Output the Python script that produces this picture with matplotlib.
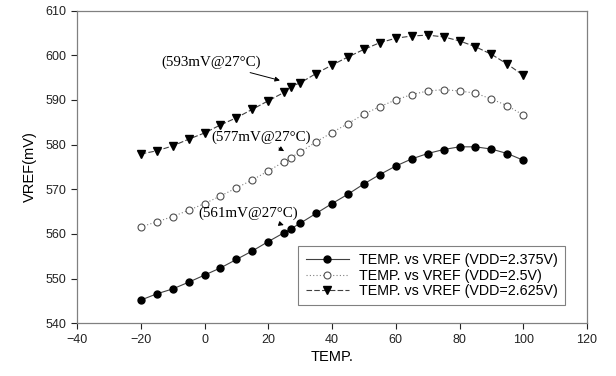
import matplotlib
matplotlib.use("Agg")
import matplotlib.pyplot as plt

# temperatures (deg C); 27 is the marked room-temperature point
temp = [-20, -15, -10, -5, 0, 5, 10, 15, 20, 25, 27, 30, 35, 40, 45,
        50, 55, 60, 65, 70, 75, 80, 85, 90, 95, 100]

# VREF (mV) for each supply voltage
vref_2375 = [545.2, 546.6, 547.7, 549.2, 550.8, 552.4, 554.3, 556.2, 558.3, 560.3,
             561.1, 562.4, 564.6, 566.8, 568.9, 571.2, 573.3, 575.2, 576.8, 578.0,
             578.9, 579.5, 579.5, 579.0, 578.0, 576.5]
vref_25 = [561.6, 562.7, 563.9, 565.3, 566.8, 568.5, 570.3, 572.1, 574.1, 576.2,
           577.1, 578.3, 580.6, 582.7, 584.7, 586.8, 588.5, 590.0, 591.2, 592.0,
           592.3, 592.0, 591.5, 590.2, 588.7, 586.6]
vref_2625 = [577.9, 578.6, 579.7, 581.2, 582.6, 584.4, 586.0, 587.9, 589.8, 591.7,
             593.0, 593.8, 595.9, 597.8, 599.6, 601.3, 602.8, 603.8, 604.3, 604.5,
             604.1, 603.2, 601.9, 600.2, 598.0, 595.5]

labels = ["TEMP. vs VREF (VDD=2.375V)",
          "TEMP. vs VREF (VDD=2.5V)",
          "TEMP. vs VREF (VDD=2.625V)"]
notes = ["(561mV@27\u00b0C)", "(577mV@27\u00b0C)", "(593mV@27\u00b0C)"]

plt.rcParams["font.family"] = ["Liberation Sans", "DejaVu Sans"]

fig = plt.figure(figsize=(6.16, 3.76), dpi=100)
ax = fig.add_axes([0.125, 0.140, 0.828, 0.832])

ax.plot(temp, vref_2375, color="#404040", lw=0.8, ls="-",
        marker="o", ms=5, mfc="black", mec="black", label=labels[0])
ax.plot(temp, vref_25, color="#808080", lw=0.8, ls=(0, (1, 2)),
        marker="o", ms=5, mfc="white", mec="#505050", mew=0.8, label=labels[1])
ax.plot(temp, vref_2625, color="#404040", lw=0.8, ls=(0, (5, 2)),
        marker="v", ms=5.5, mfc="black", mec="black", label=labels[2])

ax.set_xlim(-40, 120)
ax.set_ylim(540, 610)
ax.set_xticks(range(-40, 121, 20))
ax.set_yticks(range(540, 611, 10))
ax.tick_params(direction="out", length=4, width=0.8, labelsize=9,
               colors="#222222", top=False, right=False)
for s in ax.spines.values():
    s.set_color("#808080")
    s.set_linewidth(0.9)

ax.set_xlabel("TEMP.", fontsize=10.5, labelpad=3)
ax.set_ylabel("VREF(mV)", fontsize=10.5, labelpad=6)

serif = ["Liberation Serif", "DejaVu Serif"]
arrow = dict(arrowstyle="-|>", color="black", lw=0.7, mutation_scale=7)
ax.annotate(notes[2], xy=(24.5, 594.2), xytext=(-13.5, 598.4),
            fontsize=10.8, family=serif, va="center", ha="left",
            arrowprops=arrow)
ax.annotate(notes[1], xy=(25.7, 578.2), xytext=(2.2, 581.7),
            fontsize=10.8, family=serif, va="center", ha="left",
            arrowprops=arrow)
ax.annotate(notes[0], xy=(25.7, 561.8), xytext=(-2.0, 564.6),
            fontsize=10.8, family=serif, va="center", ha="left",
            arrowprops=arrow)

leg = ax.legend(loc="lower right", bbox_to_anchor=(0.970, 0.035), fontsize=10.3,
                frameon=True, fancybox=False, edgecolor="#606060",
                handlelength=3.0, borderpad=0.5, labelspacing=0.1,
                handletextpad=0.7)
leg.get_frame().set_linewidth(0.8)

fig.savefig("out.png", dpi=100)
